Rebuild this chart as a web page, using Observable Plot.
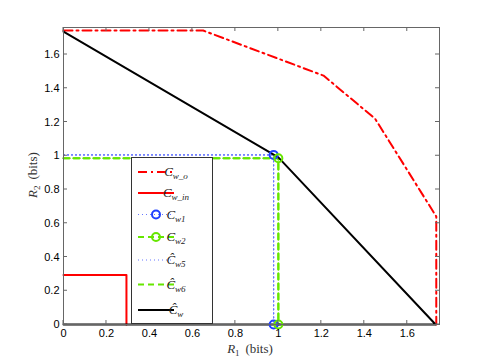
<!DOCTYPE html>
<html><head><meta charset="utf-8">
<script src="https://cdn.jsdelivr.net/npm/d3@7"></script>
<script src="https://cdn.jsdelivr.net/npm/@observablehq/plot@0.6"></script>
<style>body{margin:0;background:#fff}</style>
</head><body><div id="chart"></div>
<script>
const xTicks = [0, 0.2, 0.4, 0.6, 0.8, 1, 1.2, 1.4, 1.6];
const yTicks = [0, 0.2, 0.4, 0.6, 0.8, 1, 1.2, 1.4, 1.6];
const outerX = [0, 0.65, 1.0, 1.21, 1.45, 1.735, 1.735];
const outerY = [1.742, 1.742, 1.575, 1.475, 1.22, 0.64, 0];
const innerX = [0, 0.293, 0.293];
const innerY = [0.294, 0.294, 0];
const w1X = [0, 0.978, 0.978];
const w1Y = [1.005, 1.005, 0];
const w1MarkX = [0.978, 0.978];
const w1MarkY = [1.005, 0];
const w2X = [0, 1.0, 1.0];
const w2Y = [0.985, 0.985, 0];
const w2MarkX = [1.0, 1.0];
const w2MarkY = [0.985, 0];
const w5X = [0, 0.978, 0.978];
const w5Y = [1.005, 1.005, 0];
const w6X = [0, 1.0, 1.0];
const w6Y = [0.985, 0.985, 0];
const hatX = [0, 1, 1.732, 0];
const hatY = [1.735, 0.99, 0, 0];

const RED = "#ff0000", GREEN = "#66e600", BLUE = "#2040ff", LBLUE = "#6677ff";
const pts = (xs, ys) => xs.map((x, i) => ({x, y: ys[i]}));

const series = [
  {name: "o", data: pts(outerX, outerY), stroke: RED, width: 2, dash: "9,4,2,4"},
  {name: "in", data: pts(innerX, innerY), stroke: RED, width: 2, dash: null},
  {name: "w5", data: pts(w5X, w5Y), stroke: LBLUE, width: 1.2, dash: "1,3"},
  {name: "w6", data: pts(w6X, w6Y), stroke: GREEN, width: 2, dash: "6,4"},
  {name: "w1", data: pts(w1X, w1Y), stroke: LBLUE, width: 1.2, dash: "1,3"},
  {name: "w2", data: pts(w2X, w2Y), stroke: GREEN, width: 2, dash: "6,4"},
  {name: "hat", data: pts(hatX, hatY), stroke: "#000", width: 2, dash: null}
];

const marks = [];
for (const s of series) {
  marks.push(Plot.line(s.data, {x: "x", y: "y", stroke: s.stroke, strokeWidth: s.width, strokeDasharray: s.dash}));
}
marks.push(Plot.dot(pts(w1MarkX, w1MarkY), {x: "x", y: "y", r: 4, stroke: BLUE, strokeWidth: 2, fill: "none"}));
marks.push(Plot.dot(pts(w2MarkX, w2MarkY), {x: "x", y: "y", r: 4, stroke: GREEN, strokeWidth: 2, fill: "none"}));
marks.push(Plot.frame({stroke: "#666", strokeWidth: 1}));
marks.push(Plot.axisX(xTicks, {anchor: "bottom", tickSize: 0, tickPadding: 5, fontSize: 11, fill: "#000", tickFormat: d => String(d), label: null}));
marks.push(Plot.axisY(yTicks, {anchor: "left", tickSize: 0, tickPadding: 4, fontSize: 11, fill: "#000", tickFormat: d => String(d), label: null}));

const plot = Plot.plot({
  width: 485, height: 364,
  marginLeft: 63, marginRight: 46, marginTop: 27, marginBottom: 40,
  x: {domain: [0, 1.75]},
  y: {domain: [0, 1.76]},
  style: {fontFamily: "Liberation Sans, Arial, sans-serif", background: "#fff"},
  marks
});

const svg = d3.select(plot);
const xs = plot.scale("x"), ys = plot.scale("y");
const fTop = 27, fBottom = 324, fLeft = 63, fRight = 439;
// inward tick marks on all four sides
const tg = svg.append("g").attr("stroke", "#666").attr("stroke-width", 1);
for (const t of xTicks) {
  const px = xs.apply(t);
  tg.append("line").attr("x1", px).attr("x2", px).attr("y1", fBottom).attr("y2", fBottom - 4);
  tg.append("line").attr("x1", px).attr("x2", px).attr("y1", fTop).attr("y2", fTop + 4);
}
for (const t of yTicks) {
  const py = ys.apply(t);
  tg.append("line").attr("y1", py).attr("y2", py).attr("x1", fLeft).attr("x2", fLeft + 4);
  tg.append("line").attr("y1", py).attr("y2", py).attr("x1", fRight).attr("x2", fRight - 4);
}

// axis labels
const serif = "Liberation Serif, DejaVu Serif, serif";
function mathLabel(g, main, sub, rest) {
  const t = g.append("text").attr("font-family", serif).attr("font-size", 13).attr("fill", "#333");
  t.append("tspan").attr("font-style", "italic").text(main);
  t.append("tspan").attr("font-size", 9).attr("dy", 3).text(sub);
  t.append("tspan").attr("dy", -3).text("\u2009" + rest);
  return t;
}
mathLabel(svg.append("g").attr("transform", "translate(250,353)"), "R", "1", " (bits)").attr("text-anchor", "middle");
mathLabel(svg.append("g").attr("transform", "translate(37,175) rotate(-90)"), "R", "2", " (bits)").attr("text-anchor", "middle");

// legend
const lg = svg.append("g");
lg.append("rect").attr("x", 131.5).attr("y", 157.5).attr("width", 81).attr("height", 166)
  .attr("fill", "#fff").attr("stroke", "#333").attr("stroke-width", 1);
const legendItems = [
  {label: "w_o", hat: false, stroke: RED, width: 2, dash: "9,4,2,4", marker: null, y: 172},
  {label: "w_in", hat: false, stroke: RED, width: 2, dash: null, marker: null, y: 193},
  {label: "w1", hat: false, stroke: LBLUE, width: 1.2, dash: "1,3", marker: BLUE, y: 214.5},
  {label: "w2", hat: false, stroke: GREEN, width: 2, dash: "6,4", marker: GREEN, y: 237},
  {label: "w5", hat: true, stroke: LBLUE, width: 1.2, dash: "1,3", marker: null, y: 260},
  {label: "w6", hat: true, stroke: GREEN, width: 2, dash: "6,4", marker: null, y: 284.5},
  {label: "w", hat: true, stroke: "#000", width: 2, dash: null, marker: null, y: 310}
];
for (const it of legendItems) {
  const l = lg.append("line").attr("x1", 138).attr("x2", 174).attr("y1", it.y).attr("y2", it.y)
    .attr("stroke", it.stroke).attr("stroke-width", it.width);
  if (it.dash) l.attr("stroke-dasharray", it.dash);
  if (it.marker) lg.append("circle").attr("cx", 156).attr("cy", it.y).attr("r", 4)
    .attr("fill", "none").attr("stroke", it.marker).attr("stroke-width", 2);
  const t = lg.append("text").attr("x", 176).attr("y", it.y + 4).attr("font-family", serif)
    .attr("font-size", 13).attr("fill", "#222");
  t.append("tspan").attr("font-style", "italic").text(it.hat ? "\u0108" : "C");
  t.append("tspan").attr("font-style", "italic").attr("font-size", 9).attr("dy", 3).text(it.label);
}

document.getElementById("chart").appendChild(plot);
</script>
</body></html>
